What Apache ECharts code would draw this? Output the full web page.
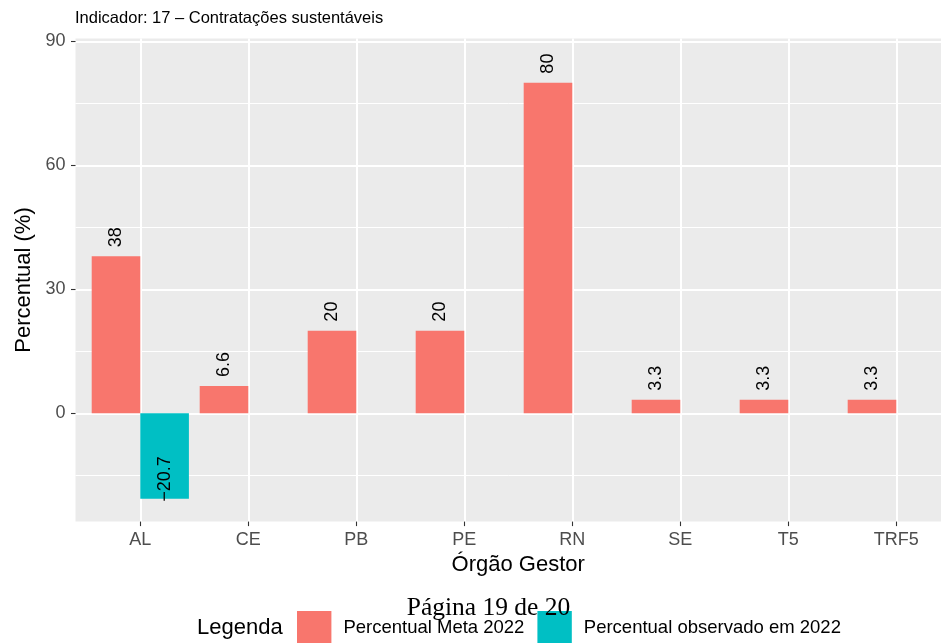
<!DOCTYPE html>
<html><head><meta charset="utf-8">
<script src="https://cdn.jsdelivr.net/npm/echarts@6/dist/echarts.min.js"></script>
<style>html,body{margin:0;padding:0;background:#fff}#c{width:941px;height:643px}</style>
</head><body><div id="c"></div>
<script>
const categories = ['AL', 'CE', 'PB', 'PE', 'RN', 'SE', 'T5', 'TRF5'];
const metaValues = [38, 6.6, 20, 20, 80, 3.3, 3.3, 3.3];
const observedValues = [-20.7, null, null, null, null, null, null, null];
const yTicks = [0, 30, 60, 90];
const yMinorTicks = [-15, 15, 45, 75];
const seriesNames = ['Percentual Meta 2022', 'Percentual observado em 2022'];
const titleText = 'Indicador: 17 – Contratações sustentáveis';
const xTitle = 'Órgão Gestor';
const yTitle = 'Percentual (%)';
const legendTitle = 'Legenda';
const pageText = 'Página 19 de 20';

const FONT = '"Liberation Sans", Arial, Helvetica, sans-serif';
const fmt = v => String(v).replace('-', '\u2212');
const xIdx = categories.map((c, i) => i);

const chart = echarts.init(document.getElementById('c'), null, { renderer: 'canvas' });
const option = {
  animation: false,
  backgroundColor: '#fff',
  title: {
    text: titleText, left: 75, top: 10, padding: 0,
    textStyle: { fontFamily: FONT, fontSize: 16.5, fontWeight: 'normal', color: '#000' }
  },
  grid: { left: 75.5, right: 0, top: 38.4, bottom: 121.4, show: true, backgroundColor: '#EBEBEB', borderWidth: 0, containLabel: false },
  xAxis: {
    type: 'value', min: -0.6, max: 7.414,
    axisLine: { show: false, onZero: false },
    axisTick: { show: true, customValues: xIdx, length: 4.5, lineStyle: { color: '#333', width: 1.1 } },
    axisLabel: { customValues: xIdx, formatter: v => categories[Math.round(v)], fontFamily: FONT, fontSize: 18, color: '#4D4D4D', margin: 9 },
    splitLine: { show: true, lineStyle: { color: '#fff', width: 2 } },
    name: xTitle, nameLocation: 'middle', nameGap: 31,
    nameTextStyle: { fontFamily: FONT, fontSize: 22, color: '#000', padding: [0, 0, 0, 20] }
  },
  yAxis: [{
    type: 'value', min: -26.2, max: 90.7, position: 'left',
    axisLine: { show: false, onZero: false },
    axisTick: { show: true, customValues: yTicks, length: 4.5, lineStyle: { color: '#333', width: 1.1 } },
    axisLabel: { customValues: yTicks, fontFamily: FONT, fontSize: 18, color: '#4D4D4D', margin: 10 },
    splitLine: { show: true, lineStyle: { color: '#fff', width: 2 } },
    name: yTitle, nameLocation: 'middle', nameGap: 36, nameRotate: 90,
    nameTextStyle: { fontFamily: FONT, fontSize: 22, color: '#000' }
  }, {
    type: 'value', min: -26.2, max: 90.7, position: 'left',
    axisLine: { show: false, onZero: false },
    axisTick: { show: false, customValues: yMinorTicks },
    axisLabel: { show: false, customValues: yMinorTicks },
    splitLine: { show: true, lineStyle: { color: '#fff', width: 1 } }
  }],
  legend: {
    data: seriesNames, left: 297, top: 611, padding: 0, orient: 'horizontal',
    itemWidth: 34.4, itemHeight: 34.4, itemGap: 13, icon: 'rect',
    textStyle: { fontFamily: FONT, fontSize: 18.5, color: '#000', padding: [0, 0, 0, 7] }
  },
  graphic: [
    { type: 'text', left: 197, top: 617, z: 100,
      style: { text: legendTitle, font: '22px ' + FONT, fill: '#000' } },
    { type: 'text', x: 488.5, y: 608.3, z: 100,
      style: { text: pageText, font: '25.5px "Liberation Serif", "DejaVu Serif", serif', fill: '#000', align: 'center', verticalAlign: 'middle' } }
  ],
  series: [{
    type: 'bar', name: seriesNames[0],
    data: metaValues.map((v, i) => [i, v]),
    barWidth: '45%', barGap: '0%',
    itemStyle: { color: '#F8766D' },
    label: { show: true, position: 'top', distance: 9, rotate: 90, align: 'left', verticalAlign: 'middle',
      fontFamily: FONT, fontSize: 18, color: '#000', formatter: p => fmt(p.value[1]) }
  }, {
    type: 'bar', name: seriesNames[1],
    data: observedValues.map((v, i) => [i, v]).filter(d => d[1] !== null),
    barWidth: '45%', barGap: '0%',
    itemStyle: { color: '#00BFC4' },
    label: { show: true, position: 'insideBottom', distance: -5, rotate: 90, align: 'left', verticalAlign: 'middle',
      offset: [2, 0], fontFamily: FONT, fontSize: 18, color: '#000', formatter: p => fmt(p.value[1]) }
  }]
};
chart.setOption(option);
</script>
</body></html>
